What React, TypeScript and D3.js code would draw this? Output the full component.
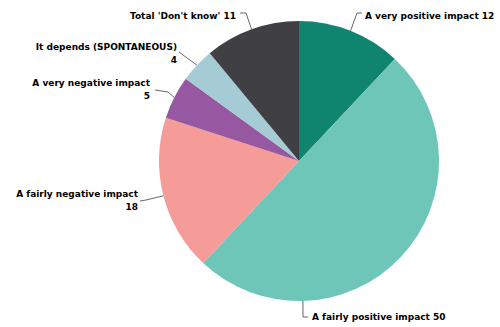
import React from "react";
import * as d3 from "d3";

const categories = [
  "A very positive impact",
  "A fairly positive impact",
  "A fairly negative impact",
  "A very negative impact",
  "It depends (SPONTANEOUS)",
  "Total 'Don't know'",
];
const values = [12, 50, 18, 5, 4, 11];
const colors = ["#0f8570", "#6dc6b7", "#f59b98", "#9658a0", "#a5ccd4", "#404044"];

// label layout: connector angle override (deg), bend & end offsets, text anchor
type Lay = {
  angle?: number;
  bend: [number, number];
  end: [number, number];
  anchor: "start" | "end";
  text: [number, number];
  twoLine: boolean;
};
const layout: Lay[] = [
  { bend: [357, 13], end: [362, 13], anchor: "start", text: [365, 19], twoLine: false },
  { angle: 178.4, bend: [303, 317], end: [308, 317], anchor: "start", text: [312, 320], twoLine: false },
  { bend: [146, 200], end: [140, 201], anchor: "end", text: [138, 197], twoLine: true },
  { bend: [168, 92], end: [155, 90], anchor: "end", text: [150, 86], twoLine: true },
  { bend: [183, 55], end: [179, 52], anchor: "end", text: [177, 50], twoLine: true },
  { bend: [246, 13], end: [240, 13], anchor: "end", text: [236, 19], twoLine: false },
];

export default function App() {
  const W = 500, H = 327;
  const cx = 299, cy = 161, r = 140;
  const pie = d3.pie<number>().sort(null).value((d) => d)(values);
  const arc = d3.arc<d3.PieArcDatum<number>>().innerRadius(0).outerRadius(r);
  const font = "'DejaVu Sans', Verdana, sans-serif";
  return (
    <svg width={W} height={H} style={{ position: "absolute", left: 0, top: 0 }} xmlns="http://www.w3.org/2000/svg">
      <rect width={W} height={H} fill="#fff" />
      <g transform={`translate(${cx},${cy})`}>
        {pie.map((p, i) => (
          <path key={i} d={arc(p) || ""} fill={colors[i]} />
        ))}
      </g>
      {pie.map((p, i) => {
        const L = layout[i];
        const a = L.angle !== undefined ? (L.angle * Math.PI) / 180 : (p.startAngle + p.endAngle) / 2;
        const ex = cx + r * Math.sin(a);
        const ey = cy - r * Math.cos(a);
        return (
          <g key={i}>
            <polyline
              points={`${ex},${ey} ${L.bend[0]},${L.bend[1]} ${L.end[0]},${L.end[1]}`}
              fill="none"
              stroke="#666"
              strokeWidth={1}
            />
            <text
              x={L.text[0]}
              y={L.text[1]}
              textAnchor={L.anchor}
              fontFamily={font}
              fontWeight="bold"
              fontSize={9}
              fill="#000"
            >
              {L.twoLine ? (
                <>
                  <tspan x={L.text[0]}>{categories[i]}</tspan>
                  <tspan x={L.text[0]} dy={13}>{values[i]}</tspan>
                </>
              ) : (
                `${categories[i]} ${values[i]}`
              )}
            </text>
          </g>
        );
      })}
    </svg>
  );
}
